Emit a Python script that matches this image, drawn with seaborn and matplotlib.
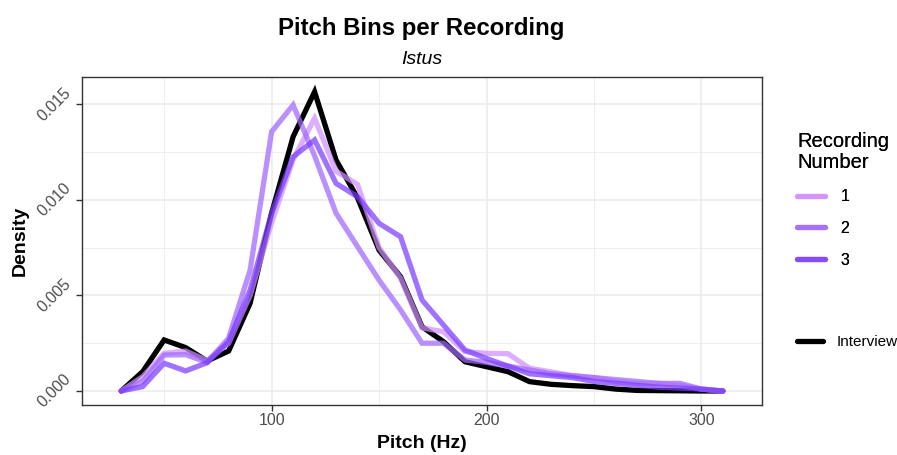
import numpy as np
import pandas as pd
import matplotlib
matplotlib.use("Agg")
import matplotlib.pyplot as plt
import seaborn as sns
from matplotlib.lines import Line2D

pitch = list(range(30, 320, 10))

interview = [0.0, 0.00101, 0.00267, 0.00227, 0.00157, 0.00209, 0.00459, 0.0093, 0.0133, 0.01565,
             0.01208, 0.0101, 0.00737, 0.00598, 0.00336, 0.00258, 0.00153, 0.00127, 0.00101, 0.00049,
             0.00035, 0.00028, 0.00023, 0.0001, 0.00003, 0.00002, 0.00001, 0.0, 0.0]
rec1 = [0.0, 0.00075, 0.00197, 0.00209, 0.0016, 0.0025, 0.005, 0.0088, 0.0121, 0.01426,
        0.0115, 0.0108, 0.0075, 0.0059, 0.0033, 0.0031, 0.00206, 0.00197, 0.00195, 0.00119,
        0.001, 0.0008, 0.0007, 0.0005, 0.0004, 0.0004, 0.0003, 0.0001, 0.0]
rec2 = [0.0, 0.0005, 0.00188, 0.0019, 0.0015, 0.00276, 0.00633, 0.01356, 0.01496, 0.0123,
        0.0093, 0.00755, 0.0058, 0.00424, 0.0025, 0.0025, 0.00162, 0.0015, 0.0013, 0.0011,
        0.0009, 0.0008, 0.0007, 0.0006, 0.0005, 0.0004, 0.0004, 0.0001, 0.0]
rec3 = [0.0, 0.00023, 0.00145, 0.00105, 0.00148, 0.00258, 0.00528, 0.0093, 0.01225, 0.01313,
        0.01086, 0.01016, 0.00877, 0.00807, 0.00476, 0.00345, 0.00214, 0.0017, 0.0013, 0.0009,
        0.0008, 0.0007, 0.0005, 0.0004, 0.0003, 0.0002, 0.00015, 0.0001, 0.0]

recordings = ["1", "2", "3"]
rec_colors = ["#D08EFF", "#A066FF", "#7A3DFF"]
alpha = 0.72

df = pd.DataFrame({
    "Pitch": pitch * 3,
    "Density": rec1 + rec2 + rec3,
    "Recording": [r for r in recordings for _ in pitch],
})
df_int = pd.DataFrame({"Pitch": pitch, "Density": interview})

sns.set_theme(style="white")
plt.rcParams["font.family"] = ["Liberation Sans", "DejaVu Sans"]
plt.rcParams["text.color"] = "black"
plt.rcParams["axes.labelcolor"] = "black"

fig = plt.figure(figsize=(8.97, 4.55), dpi=100)
ax = fig.add_axes([0.091, 0.110, 0.759, 0.7214])

lw = 3.8
sns.lineplot(data=df_int, x="Pitch", y="Density", color="black", lw=lw, ax=ax,
             legend=False, solid_joinstyle="miter", zorder=3)
sns.lineplot(data=df, x="Pitch", y="Density", hue="Recording",
             palette=dict(zip(recordings, rec_colors)), lw=lw, alpha=alpha,
             ax=ax, legend=False, solid_joinstyle="miter", zorder=4)

ax.set_xlim(11.6, 328.4)
ax.set_ylim(-0.00073, 0.01644)
ax.set_xticks([100, 200, 300])
ax.set_xticks([50, 150, 250], minor=True)
ax.set_yticks([0.0, 0.005, 0.010, 0.015])
ax.set_yticks([0.0025, 0.0075, 0.0125], minor=True)
ax.set_yticklabels(["0.000", "0.005", "0.010", "0.015"], rotation=45, va="center", ha="right")
ax.grid(True, which="major", color="#EBEBEB", lw=1.1)
ax.grid(True, which="minor", color="#EBEBEB", lw=0.55)
ax.set_axisbelow(True)
for s in ax.spines.values():
    s.set_color("#333333")
    s.set_linewidth(1.0)
ax.tick_params(which="major", length=4, width=1.0, color="#333333", labelcolor="#4D4D4D",
               labelsize=11.5, bottom=True, left=True, pad=2)
ax.tick_params(which="minor", length=0)

ax.set_xlabel("Pitch (Hz)", fontsize=14, fontweight="bold", labelpad=5)
ax.set_ylabel("Density", fontsize=14, fontweight="bold", labelpad=4)

fig.text(0.470, 0.937, "Pitch Bins per Recording", ha="center", va="center",
         fontsize=17.3, fontweight="bold")
fig.text(0.470, 0.870, "Istus", ha="center", va="center", fontsize=14, style="italic")

handles = [Line2D([0], [0], color=c, lw=lw, alpha=alpha) for c in rec_colors]
leg1 = fig.legend(handles, recordings, title="Recording\nNumber", loc="upper left",
                  bbox_to_anchor=(0.873, 0.741), frameon=False, fontsize=11.5,
                  title_fontsize=14.5, handlelength=1.7, labelspacing=1.05, handletextpad=1.0,
                  alignment="left")
leg1.get_title().set_linespacing(1.15)
h2 = [Line2D([0], [0], color="black", lw=lw)]
leg2 = fig.legend(h2, ["Interview"], loc="upper left", bbox_to_anchor=(0.873, 0.294),
                  frameon=False, fontsize=11, handlelength=1.7, handletextpad=0.9)
fig.add_artist(leg1)

fig.savefig("out.png", dpi=100)
